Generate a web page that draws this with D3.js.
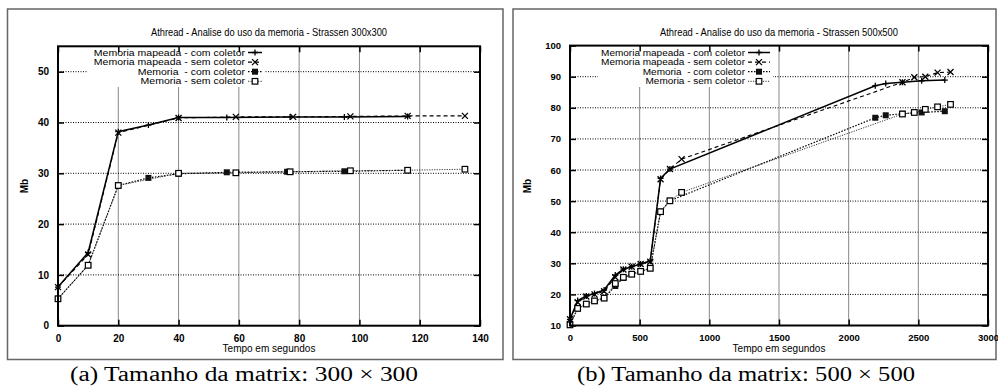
<!DOCTYPE html>
<html><head><meta charset="utf-8">
<script src="https://cdn.jsdelivr.net/npm/d3@7"></script>
<style>
body{margin:0;background:#fff;}
svg{display:block;font-family:"Liberation Sans",Arial,sans-serif;}
</style></head><body>
<svg id="c" width="998" height="387"></svg>
<script>
// ---------- DATA ----------
const seriesNames = ["Memoria mapeada - com coletor","Memoria mapeada - sem coletor","Memoria  - com coletor","Memoria - sem coletor"];

// Panel (a) 300x300
const aTitle = "Athread - Analise do uso da memoria - Strassen 300x300";
const aCaption = "(a) Tamanho da matrix: 300 \u00d7 300";
const aXTicks = [0,20,40,60,80,100,120,140];
const aYTicks = [0,10,20,30,40,50];
const aMapComX = [0,10,20,30,40,56,77,95,116];
const aMapComY = [7.6,14.4,38.2,39.5,41.0,41.0,41.1,41.1,41.2];
const aMapSemX = [0,10,20,40,59,78,97,116,135];
const aMapSemY = [7.6,14.0,38.0,40.9,41.1,41.1,41.2,41.3,41.3];
const aMemComX = [0,10,20,30,40,56,76,95,116];
const aMemComY = [5.3,11.9,27.6,29.1,29.9,30.2,30.3,30.4,30.6];
const aMemSemX = [0,10,20,40,59,77,97,116,135];
const aMemSemY = [5.3,11.9,27.6,30.0,30.1,30.3,30.5,30.6,30.8];

// Panel (b) 500x500
const bTitle = "Athread - Analise do uso da memoria - Strassen 500x500";
const bCaption = "(b) Tamanho da matrix: 500 \u00d7 500";
const bXTicks = [0,500,1000,1500,2000,2500,3000];
const bYTicks = [10,20,30,40,50,60,70,80,90,100];
const bMapComX = [0,55,117,176,245,325,383,443,507,576,650,717,2191,2266,2386,2524,2690];
const bMapComY = [12.0,18.0,19.5,20.3,21.4,26.2,28.1,28.9,29.8,30.8,57.3,60.3,87.1,87.8,88.2,88.7,88.9];
const bMapSemX = [0,55,117,176,245,325,383,443,507,576,650,717,801,2386,2471,2550,2638,2731];
const bMapSemY = [12.0,17.5,19.3,20.0,21.0,25.5,28.0,28.9,29.8,30.5,57.0,60.3,63.5,88.2,89.8,90.0,91.3,91.5];
const bMemComX = [0,55,117,176,245,325,383,443,507,576,650,717,2191,2266,2386,2524,2690];
const bMemComY = [10.2,15.5,16.9,17.9,18.8,22.7,25.3,26.5,27.4,28.4,46.6,50.1,76.8,77.6,78.1,78.5,78.9];
const bMemSemX = [0,55,117,176,245,325,383,443,507,576,650,717,801,2386,2471,2550,2638,2731];
const bMemSemY = [10.2,15.5,16.9,17.9,18.8,23.5,25.5,26.5,27.4,28.4,46.6,50.1,52.8,78.0,78.5,79.5,80.3,81.1];

// ---------- STYLES ----------
const styles = [
  {dash:null, width:1.5, color:"#000", marker:"plus"},
  {dash:"4,3", width:1.1, color:"#000", marker:"cross"},
  {dash:"1.5,1.5", width:1.2, color:"#000", marker:"star"},
  {dash:"1.2,1.3", width:1.0, color:"#333", marker:"square"}
];

const svg = d3.select("#c");

function marker(g, type, x, y){
  const s = 3;
  if(type==="plus"){
    g.append("path").attr("d",`M${x-s},${y}H${x+s}M${x},${y-s}V${y+s}`).attr("stroke","#000").attr("stroke-width",1.3).attr("fill","none");
  } else if(type==="cross"){
    g.append("path").attr("d",`M${x-s},${y-s}L${x+s},${y+s}M${x-s},${y+s}L${x+s},${y-s}`).attr("stroke","#000").attr("stroke-width",1.3).attr("fill","none");
  } else if(type==="star"){
    g.append("rect").attr("x",x-3).attr("y",y-3).attr("width",6).attr("height",6).attr("fill","#111");
  } else {
    g.append("rect").attr("x",x-2.8).attr("y",y-2.8).attr("width",5.6).attr("height",5.6).attr("fill","#fff").attr("stroke","#000").attr("stroke-width",1.2);
  }
}

function panel(cfg){
  const g = svg.append("g");
  g.append("rect").attr("x",cfg.box[0]).attr("y",cfg.box[1]).attr("width",cfg.box[2]-cfg.box[0]).attr("height",cfg.box[3]-cfg.box[1])
    .attr("fill","#fff").attr("stroke","#666").attr("stroke-width",1.5);
  const x = d3.scaleLinear().domain(cfg.xDom).range(cfg.xRange);
  const y = d3.scaleLinear().domain(cfg.yDom).range(cfg.yRange);
  const [x0,x1] = cfg.xRange, [y0,y1] = cfg.yRange;

  g.append("g").selectAll("line").data(cfg.xTicks.slice(1,-1)).join("line")
    .attr("x1",d=>x(d)).attr("x2",d=>x(d)).attr("y1",y0).attr("y2",y1)
    .attr("stroke","#888").attr("stroke-width",1);
  g.append("g").selectAll("line").data(cfg.yTicks.filter(d=>d!==cfg.yDom[0] && d!==cfg.yDom[1])).join("line")
    .attr("x1",x0).attr("x2",x1).attr("y1",d=>y(d)).attr("y2",d=>y(d))
    .attr("stroke","#000").attr("stroke-width",1).attr("stroke-dasharray","1,1.5");

  g.append("rect").attr("x",cfg.legBox[0]).attr("y",y1+1).attr("width",cfg.legBox[1]-cfg.legBox[0]).attr("height",cfg.legBox[2]-y1)
    .attr("fill","#fff");

  const line = d3.line().x(d=>x(d[0])).y(d=>y(d[1]));
  cfg.series.forEach((s,i)=>{
    const st = styles[i];
    const pts = s.x.map((v,j)=>[v,s.y[j]]);
    g.append("path").datum(pts).attr("d",line).attr("fill","none")
      .attr("stroke",st.color).attr("stroke-width",st.width)
      .attr("stroke-dasharray",st.dash);
  });
  cfg.series.forEach((s,i)=>{
    const st = styles[i];
    const mg = g.append("g");
    s.x.forEach((v,j)=>marker(mg, st.marker, x(v), y(s.y[j])));
  });

  g.append("rect").attr("x",x0).attr("y",y1).attr("width",x1-x0).attr("height",y0-y1)
    .attr("fill","none").attr("stroke","#000").attr("stroke-width",2);

  const tk = 6;
  const ax = d3.axisBottom(x).tickValues(cfg.xTicks).tickSize(-tk).tickPadding(9).tickFormat(d3.format("d"));
  const axT = d3.axisTop(x).tickValues(cfg.xTicks).tickSize(-tk).tickFormat("");
  const ay = d3.axisLeft(y).tickValues(cfg.yTicks).tickSize(-tk).tickPadding(9).tickFormat(d3.format("d"));
  const ayR = d3.axisRight(y).tickValues(cfg.yTicks).tickSize(-tk).tickFormat("");
  const styleAxis = sel=>{
    sel.select(".domain").remove();
    sel.selectAll(".tick line").attr("stroke","#000").attr("stroke-width",1.5);
    sel.selectAll("text").attr("font-size",cfg.tickFont).attr("font-weight","bold").attr("fill","#000")
      .attr("font-family","'Liberation Sans',Arial,sans-serif");
  };
  g.append("g").attr("transform",`translate(0,${y0})`).call(ax).call(styleAxis);
  g.append("g").attr("transform",`translate(0,${y1})`).call(axT).call(styleAxis);
  g.append("g").attr("transform",`translate(${x0},0)`).call(ay).call(styleAxis);
  g.append("g").attr("transform",`translate(${x1},0)`).call(ayR).call(styleAxis);

  g.append("text").attr("x",(x0+x1)/2).attr("y",36).attr("text-anchor","middle")
    .attr("font-size",cfg.titleFont).attr("textLength",cfg.titleLen).attr("lengthAdjust","spacingAndGlyphs").text(cfg.title);
  g.append("text").attr("x",(x0+x1)/2).attr("y",352).attr("text-anchor","middle")
    .attr("font-size",cfg.labFont).text("Tempo em segundos");
  g.append("text").attr("transform",`translate(${cfg.mbX},186) rotate(-90)`).attr("text-anchor","middle")
    .attr("font-size",cfg.labFont).attr("font-weight","bold").text("Mb");

  // legend: measure at the visual size, render slightly smaller with same width
  const rows = [52.5,62.1,71.7,81.3];
  seriesNames.forEach((nm,i)=>{
    const st = styles[i];
    const t = g.append("text").attr("x",cfg.legTextEnd).attr("y",rows[i]+3.1).attr("text-anchor","end")
      .attr("font-size",cfg.legFont).attr("xml:space","preserve").style("white-space","pre").text(nm);
    const w = t.node().getComputedTextLength();
    t.attr("font-size",8.5).attr("textLength",w).attr("lengthAdjust","spacingAndGlyphs");
    g.append("line").attr("x1",cfg.legSample[0]).attr("x2",cfg.legSample[1]).attr("y1",rows[i]).attr("y2",rows[i])
      .attr("stroke",st.color).attr("stroke-width",st.width).attr("stroke-dasharray",st.dash);
    marker(g, st.marker, (cfg.legSample[0]+cfg.legSample[1])/2, rows[i]);
  });

  g.append("text").attr("x",cfg.capX).attr("y",381).attr("text-anchor","middle")
    .attr("font-family","'Liberation Serif','DejaVu Serif',serif").attr("font-size",20)
    .attr("textLength",cfg.capLen).attr("lengthAdjust","spacingAndGlyphs").text(cfg.caption);
}

panel({
  box:[7.5,9,503,359.5], xDom:[0,140], yDom:[0,55], xRange:[58,480], yRange:[325.7,46.3],
  xTicks:aXTicks, yTicks:aYTicks, title:aTitle, caption:aCaption, capX:244, capLen:348,
  tickFont:10, titleFont:10.5, titleLen:236, labFont:10, legFont:10.5, mbX:28,
  legTextEnd:245, legSample:[248,262], legBox:[88,264,86],
  series:[{x:aMapComX,y:aMapComY},{x:aMapSemX,y:aMapSemY},{x:aMemComX,y:aMemComY},{x:aMemSemX,y:aMemSemY}]
});
panel({
  box:[513,9,996,359.5], xDom:[0,3000], yDom:[10,100], xRange:[570,988], yRange:[325.5,45.6],
  xTicks:bXTicks, yTicks:bYTicks, title:bTitle, caption:bCaption, capX:746, capLen:338,
  tickFont:9.5, titleFont:10.5, titleLen:238, labFont:10, legFont:10, mbX:531,
  legTextEnd:745, legSample:[748,770], legBox:[598,773,86],
  series:[{x:bMapComX,y:bMapComY},{x:bMapSemX,y:bMapSemY},{x:bMemComX,y:bMemComY},{x:bMemSemX,y:bMemSemY}]
});
</script></body></html>
